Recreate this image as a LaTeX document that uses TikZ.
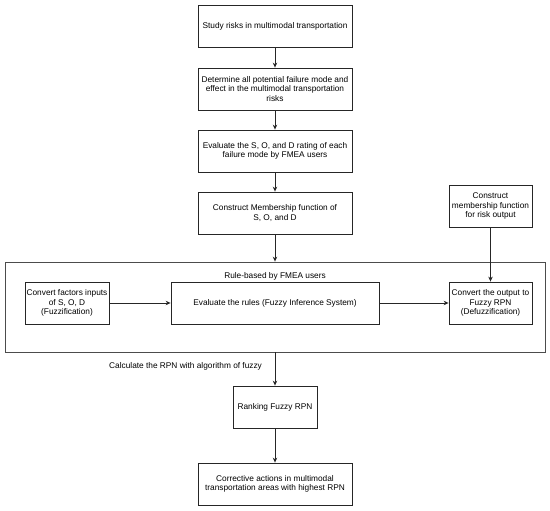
\documentclass[tikz,border=0pt]{standalone}
\usepackage{fontspec}
\setmainfont{Liberation Sans}
\usetikzlibrary{arrows.meta}
\begin{document}
\begin{tikzpicture}[x=1pt,y=-1pt,
  every node/.style={font=\fontsize{8.3}{9.6}\selectfont, align=center, inner sep=0pt},
  box/.style={draw=black!85, line width=0.8pt, minimum height=42pt},
  arr/.style={draw=black!85, line width=0.8pt, -{Stealth[length=5pt,width=4.5pt]}}]
\useasboundingbox (0,0) rectangle (550,511);
\node[box, minimum width=154pt] (b1) at (275,26) {Study risks in multimodal transportation};
\node[box, minimum width=154pt] (b2) at (275,89) {Determine all potential failure mode and\\effect in the multimodal transportation\\risks};
\node[box, minimum width=154pt] (b3) at (275,151) {Evaluate the S, O, and D rating of each\\failure mode by FMEA users};
\node[box, minimum width=154pt] (b4) at (275,213) {Construct Membership function of\\S, O, and D};
\node[box, minimum width=83pt] (memb) at (490.5,206) {Construct\\membership function\\for risk output};
\node[draw=black!70, line width=0.8pt, minimum width=540pt, minimum height=90pt] (cont) at (275,307) {};
\node (rule) at (275,276) {Rule-based by FMEA users};
\node[box, minimum width=84pt] (cin) at (67,303) {Convert factors inputs\\of S, O, D\\(Fuzzification)};
\node[box, minimum width=208pt] (eval) at (275,303) {Evaluate the rules (Fuzzy Inference System)};
\node[box, minimum width=83pt] (cout) at (490.5,303) {Convert the output to\\Fuzzy RPN\\(Defuzzification)};
\node[box, minimum width=84pt] (rank) at (275,407) {Ranking Fuzzy RPN};
\node[box, minimum width=154pt] (corr) at (275,484) {Corrective actions in multimodal\\transportation areas with highest RPN};
\node[anchor=west] (calc) at (109,366) {Calculate the RPN with algorithm of fuzzy};
\draw[arr] (b1) -- (b2);
\draw[arr] (b2) -- (b3);
\draw[arr] (b3) -- (b4);
\draw[arr] (b4) -- (cont.north);
\draw[arr] (memb) -- (cout);
\draw[arr] (cin) -- (eval);
\draw[arr] (eval) -- (cout);
\draw[arr] (cont.south) -- (rank);
\draw[arr] (rank) -- (corr);
\end{tikzpicture}
\end{document}
